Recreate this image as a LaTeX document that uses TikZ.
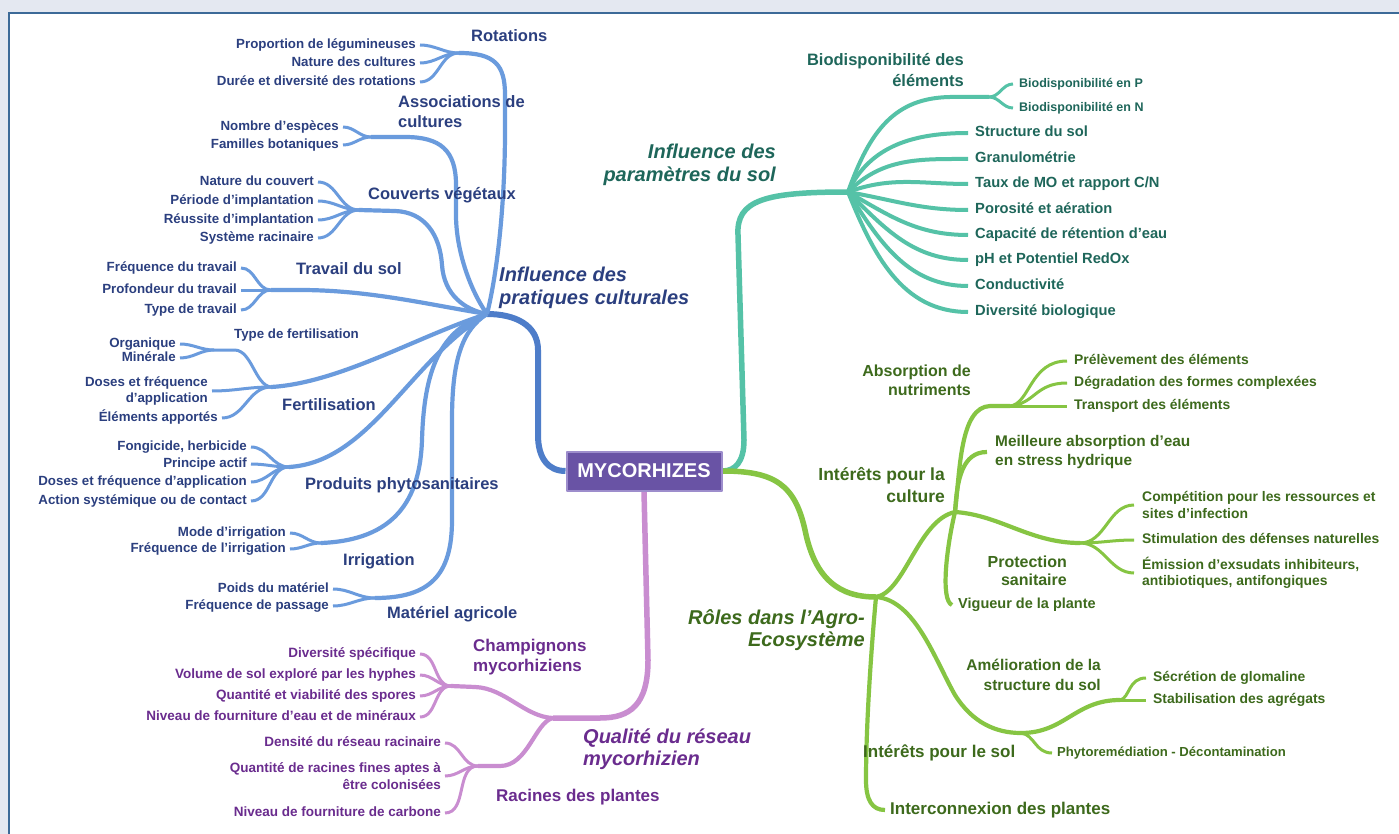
\documentclass[tikz,border=0pt]{standalone}
\usepackage{fontspec}
\setmainfont{Liberation Sans}
\definecolor{bline}{HTML}{6A9BDD}
\definecolor{bmain}{HTML}{4E7DC9}
\definecolor{btxt}{HTML}{2B3F7F}
\definecolor{tline}{HTML}{55C2A7}
\definecolor{ttxt}{HTML}{1E665A}
\definecolor{gline}{HTML}{86C543}
\definecolor{gtxt}{HTML}{3D6A1C}
\definecolor{pline}{HTML}{C98DD0}
\definecolor{ptxt}{HTML}{6A2C8E}
\definecolor{rootfill}{HTML}{6953A5}
\definecolor{rootedge}{HTML}{9D8DCC}
\definecolor{framebg}{HTML}{E4E8F1}
\definecolor{frameln}{HTML}{3C6A98}
\newcommand{\myfs}[2]{\fontsize{#1}{#2}\selectfont}
\pgfdeclarelayer{back}
\pgfdeclarelayer{bg}
\pgfsetlayers{back,bg,main}
\tikzset{
 bleaf/.style={inner sep=0pt,anchor=east,text=btxt,font=\bfseries\myfs{13.3}{16},text height=9.6pt,text depth=2.7pt},
 bleafm/.style={inner sep=0pt,anchor=east,align=right,text=btxt,font=\bfseries\myfs{13.3}{16.5}},
 blab/.style={inner sep=0pt,anchor=west,text=btxt,font=\bfseries\myfs{16.5}{20},text height=11.9pt,text depth=3.3pt},
 blabm/.style={inner sep=0pt,anchor=west,align=left,text=btxt,font=\bfseries\myfs{16.5}{20}},
 bigl/.style={inner sep=0pt,font=\bfseries\itshape\myfs{20}{22.5}},
 tleaf/.style={inner sep=0pt,anchor=west,text=ttxt,font=\bfseries\myfs{14.7}{18},text height=10.6pt,text depth=3pt},
 tsmall/.style={inner sep=0pt,anchor=west,text=ttxt,font=\bfseries\myfs{12.5}{15},text height=9pt,text depth=2.5pt},
 tlabm/.style={inner sep=0pt,anchor=east,align=right,text=ttxt,font=\bfseries\myfs{16.5}{21}},
 gleaf/.style={inner sep=0pt,anchor=west,text=gtxt,font=\bfseries\myfs{13.9}{16.5},text height=10pt,text depth=2.8pt},
 gleafm/.style={inner sep=0pt,anchor=west,align=left,text=gtxt,font=\bfseries\myfs{13.9}{16.3}},
 glab/.style={inner sep=0pt,anchor=west,text=gtxt,font=\bfseries\myfs{17}{20},text height=12.2pt,text depth=3.4pt},
 glabm/.style={inner sep=0pt,anchor=east,align=right,text=gtxt,font=\bfseries\myfs{16.5}{20}},
 pleaf/.style={inner sep=0pt,anchor=east,text=ptxt,font=\bfseries\myfs{13.5}{17},text height=9.7pt,text depth=2.7pt},
 pleafm/.style={inner sep=0pt,anchor=east,align=right,text=ptxt,font=\bfseries\myfs{13.5}{17}},
 plab/.style={inner sep=0pt,anchor=west,text=ptxt,font=\bfseries\myfs{17}{20},text height=12.2pt,text depth=3.4pt},
 plabm/.style={inner sep=0pt,anchor=west,align=left,text=ptxt,font=\bfseries\myfs{17}{20}},
 rootbox/.style={fill=rootfill,draw=rootedge,line width=2pt,text=white,font=\bfseries\myfs{20}{24},minimum width=155pt,minimum height=39pt,inner sep=0pt},
 bmainl/.style={draw=bmain,line width=6pt},
 bbr/.style={draw=bline,line width=4.2pt},
 btw/.style={draw=bline,line width=3pt},
 tmainl/.style={draw=tline,line width=5.5pt},
 tbr/.style={draw=tline,line width=4pt},
 ttw/.style={draw=tline,line width=3pt},
 gmainl/.style={draw=gline,line width=5.5pt},
 gbr/.style={draw=gline,line width=4.2pt},
 gtw/.style={draw=gline,line width=3pt},
 pmainl/.style={draw=pline,line width=5.5pt},
 pbr/.style={draw=pline,line width=4.2pt},
 ptw/.style={draw=pline,line width=3pt}
}
\begin{document}
\begin{tikzpicture}[x=1pt,y=-1pt,line cap=round,line join=round]
\useasboundingbox (0,0) rectangle (1399,834);
\begin{pgfonlayer}{back}
\fill[white] (0,0) rectangle (1399,834);
\fill[framebg] (0,0) rectangle (1399,12);
\fill[framebg] (0,0) rectangle (8,834);
\draw[frameln,line width=2pt] (9,834) -- (9,13) -- (1399,13);
\end{pgfonlayer}

% ---------- root
\node[rootbox] (root) at (644,471) {MYCORHIZES};

% ---------- blue: pratiques culturales
\coordinate (Bh) at (487,314);
\node[bigl,text=btxt,anchor=west,align=left] (Blab) at (499,288) {Influence des\\pratiques culturales};

\coordinate (FR) at (459,53);
\node[blab] (Rot) at (471,37) {Rotations};
\node[bleaf] (r1) at (416,45) {Proportion de légumineuses};
\node[bleaf] (r2) at (416,63) {Nature des cultures};
\node[bleaf] (r3) at (416,82) {Durée et diversité des rotations};

\coordinate (FA) at (371,137);
\node[blabm] (Ass) at (398,112) {Associations de\\cultures};
\node[bleaf] (a1) at (339,127) {Nombre d'espèces};
\node[bleaf] (a2) at (339,145) {Familles botaniques};

\coordinate (FC) at (359,210);
\node[blab] (Cou) at (368,195) {Couverts végétaux};
\node[bleaf] (c1) at (314,182) {Nature du couvert};
\node[bleaf] (c2) at (314,201) {Période d'implantation};
\node[bleaf] (c3) at (314,220) {Réussite d'implantation};
\node[bleaf] (c4) at (314,238) {Système racinaire};

\coordinate (FT) at (271,290);
\node[blab] (Tra) at (296,270) {Travail du sol};
\node[bleaf] (t1) at (237,268) {Fréquence du travail};
\node[bleaf] (t2) at (237,290) {Profondeur du travail};
\node[bleaf] (t3) at (237,310) {Type de travail};

\coordinate (FF) at (271,387);
\coordinate (FTF) at (214,350);
\node[bleaf,anchor=west] (TF) at (234,335) {Type de fertilisation};
\node[bleaf] (f1) at (176,344) {Organique};
\node[bleaf] (f2) at (176,358) {Minérale};
\node[bleafm] (f3) at (208,391) {Doses et fréquence\\d'application};
\node[bleaf] (f4) at (218,418) {Éléments apportés};
\node[blab] (Fer) at (282,406) {Fertilisation};

\coordinate (FP) at (289,467);
\node[blab] (Pro) at (305,485) {Produits phytosanitaires};
\node[bleaf] (p1) at (247,447) {Fongicide, herbicide};
\node[bleaf] (p2) at (247,464) {Principe actif};
\node[bleaf] (p3) at (247,482) {Doses et fréquence d'application};
\node[bleaf] (p4) at (247,501) {Action systémique ou de contact};

\coordinate (FI) at (321,543);
\node[blab] (Irr) at (343,561) {Irrigation};
\node[bleaf] (i1) at (286,533) {Mode d'irrigation};
\node[bleaf] (i2) at (286,549) {Fréquence de l'irrigation};

\coordinate (FM) at (375,598);
\node[blab] (Mat) at (387,614) {Matériel agricole};
\node[bleaf] (m1) at (329,589) {Poids du matériel};
\node[bleaf] (m2) at (329,606) {Fréquence de passage};

% ---------- teal: paramètres du sol
\coordinate (Th) at (848,192);
\node[bigl,text=ttxt,anchor=east,align=right] (Tlab) at (776,165) {Influence des\\paramètres du sol};
\coordinate (FBd) at (989,97);
\node[tlabm] (Bd) at (964,70) {Biodisponibilité des\\éléments};
\node[tsmall] (bd1) at (1019,84) {Biodisponibilité en P};
\node[tsmall] (bd2) at (1019,108) {Biodisponibilité en N};
\node[tleaf] (s1) at (975,133) {Structure du sol};
\node[tleaf] (s2) at (975,159) {Granulométrie};
\node[tleaf] (s3) at (975,184) {Taux de MO et rapport C/N};
\node[tleaf] (s4) at (975,210) {Porosité et aération};
\node[tleaf] (s5) at (975,235) {Capacité de rétention d'eau};
\node[tleaf] (s6) at (975,260) {pH et Potentiel RedOx};
\node[tleaf] (s7) at (975,286) {Conductivité};
\node[tleaf] (s8) at (975,312) {Diversité biologique};

% ---------- green: rôles
\coordinate (Gj) at (876,597);
\node[bigl,text=gtxt,anchor=east,align=right] (Glab) at (865,630) {Rôles dans l'Agro-\\Ecosystème};
\coordinate (Gc) at (955,512);
\node[glabm,font=\bfseries\myfs{17.5}{22}] (Cul) at (945,485) {Intérêts pour la\\culture};
\coordinate (Ga) at (1010,406);
\node[glabm,font=\bfseries\myfs{16}{19}] (Abs) at (971,380) {Absorption de\\nutriments};
\node[gleaf] (n1) at (1074,361) {Prélèvement des éléments};
\node[gleaf] (n2) at (1074,383) {Dégradation des formes complexées};
\node[gleaf] (n3) at (1074,406) {Transport des éléments};
\node[gleafm,font=\bfseries\myfs{15.4}{19}] (me) at (995,452) {Meilleure absorption d'eau\\en stress hydrique};
\coordinate (Gp) at (1080,543);
\node[glabm,font=\bfseries\myfs{16}{18}] (Prot) at (1067,571) {Protection\\sanitaire};
\node[gleafm] (q1) at (1142,505) {Compétition pour les ressources et\\sites d'infection};
\node[gleaf] (q2) at (1142,540) {Stimulation des défenses naturelles};
\node[gleafm] (q3) at (1142,573) {Émission d'exsudats inhibiteurs,\\antibiotiques, antifongiques};
\node[gleaf,font=\bfseries\myfs{14.5}{17}] (vi) at (958,605) {Vigueur de la plante};
\coordinate (Gs) at (1021,733);
\node[glab] (Sol) at (863,753) {Intérêts pour le sol};
\coordinate (Gam) at (1120,700);
\node[glabm,font=\bfseries\myfs{15.5}{20}] (Ame) at (1101,675) {Amélioration de la\\structure du sol};
\node[gleaf] (u1) at (1153,678) {Sécrétion de glomaline};
\node[gleaf] (u2) at (1153,700) {Stabilisation des agrégats};
\node[gleaf,font=\bfseries\myfs{13.1}{16}] (u3) at (1057,753) {Phytoremédiation - Décontamination};
\node[glab] (ic) at (890,810) {Interconnexion des plantes};

% ---------- purple: réseau
\coordinate (Ph) at (553,718);
\node[bigl,text=ptxt,anchor=west,align=left] (Plab) at (583,749) {Qualité du réseau\\mycorhizien};
\coordinate (Pc) at (451,686);
\node[plabm] (Cha) at (473,657) {Champignons\\mycorhiziens};
\node[pleaf] (k1) at (416,654) {Diversité spécifique};
\node[pleaf] (k2) at (416,675) {Volume de sol exploré par les hyphes};
\node[pleaf] (k3) at (416,696) {Quantité et viabilité des spores};
\node[pleaf] (k4) at (416,717) {Niveau de fourniture d'eau et de minéraux};
\coordinate (Pr) at (478,766);
\node[plab] (Rac) at (496,797) {Racines des plantes};
\node[pleaf] (w1) at (441,743) {Densité du réseau racinaire};
\node[pleafm] (w2) at (441,776) {Quantité de racines fines aptes à\\être colonisées};
\node[pleaf] (w3) at (441,813) {Niveau de fourniture de carbone};

% ================= connectors
\begin{pgfonlayer}{bg}
% blue
\draw[bmainl] (root.west) .. controls (548,471) and (538,458) .. (538,435) -- (538,350) .. controls (538,325) and (515,314) .. (Bh);
\draw[bbr] (Bh) .. controls (498,270) and (505,200) .. (505,130) -- (505,95) .. controls (505,65) and (495,53) .. (FR);
\draw[bbr] (Bh) .. controls (470,290) and (456,250) .. (456,215) -- (456,185) .. controls (456,150) and (440,137) .. (405,137) -- (FA);
\draw[bbr] (Bh) .. controls (465,310) and (444,295) .. (442,265) .. controls (440,235) and (425,212) .. (395,211) -- (FC);
\draw[bbr] (FT) -- (300,290) .. controls (370,290) and (430,305) .. (Bh);
\draw[bbr] (FF) .. controls (340,383) and (420,335) .. (Bh);
\draw[btw] (FF) .. controls (255,385) and (252,351) .. (235,350) -- (FTF);
\draw[bbr] (FP) .. controls (370,462) and (410,360) .. (Bh);
\draw[bbr] (FI) .. controls (395,540) and (420,500) .. (422,440) .. controls (424,370) and (440,330) .. (Bh);
\draw[bbr] (FM) .. controls (430,598) and (452,575) .. (452,520) -- (452,420) .. controls (452,360) and (462,330) .. (Bh);
\foreach \a/\b in {FR/r1,FR/r2,FR/r3,FA/a1,FA/a2,FC/c1,FC/c2,FC/c3,FC/c4,FT/t1,FT/t2,FT/t3,FTF/f1,FTF/f2,FF/f3,FF/f4,FP/p1,FP/p2,FP/p3,FP/p4,FI/i1,FI/i2,FM/m1,FM/m2}
  \draw[btw] (\a) to[out=180,in=0] ([xshift=4pt]\b.east);
% teal
\draw[tmainl] (root.east) .. controls (735,471) and (744,462) .. (744,440) -- (738,235) .. controls (736,200) and (765,192) .. (Th);
\draw[tbr] (Th) .. controls (870,130) and (895,98) .. (950,97) -- (FBd);
\draw[ttw] (FBd) to[out=0,in=180] ([xshift=-6pt]bd1.west);
\draw[ttw] (FBd) to[out=0,in=180] ([xshift=-6pt]bd2.west);
\foreach \b/\ang in {s1/65,s2/45,s3/20,s4/-10,s5/-30,s6/-45,s7/-58,s8/-68}
  \draw[tbr] (Th) to[out=\ang,in=180] ([xshift=-7pt]\b.west);
% green
\draw[gmainl] (root.east) .. controls (775,471) and (795,485) .. (805,530) .. controls (815,580) and (840,597) .. (Gj);
\draw[gbr] (Gj) .. controls (905,592) and (918,520) .. (Gc);
\draw[gbr] (Gc) .. controls (960,470) and (960,407) .. (990,406) -- (Ga);
\draw[gtw] (Ga) -- ([xshift=-7pt]n3.west);
\draw[gtw] (Ga) .. controls (1035,404) and (1035,383) .. ([xshift=-7pt]n2.west);
\draw[gtw] (Ga) .. controls (1030,404) and (1030,361) .. ([xshift=-7pt]n1.west);
\draw[gbr] (Gc) .. controls (957,480) and (962,452) .. ([xshift=-8pt]me.west);
\draw[gbr] (Gc) .. controls (1000,515) and (1030,543) .. (Gp);
\foreach \b in {q1,q2,q3}
  \draw[gtw] (Gp) to[out=0,in=180] ([xshift=-8pt]\b.west);
\draw[gbr] (Gc) .. controls (947,545) and (940,600) .. ([xshift=-6pt]vi.west);
\draw[gbr] (Gj) .. controls (915,600) and (935,660) .. (955,695) .. controls (972,722) and (995,733) .. (Gs);
\draw[gbr] (Gs) .. controls (1065,733) and (1075,700) .. (Gam);
\draw[gtw] (Gam) -- ([xshift=-7pt]u2.west);
\draw[gtw] (Gam) .. controls (1130,698) and (1128,678) .. ([xshift=-7pt]u1.west);
\draw[gtw] (Gs) .. controls (1035,735) and (1035,753) .. ([xshift=-5pt]u3.west);
\draw[gbr] (Gj) .. controls (872,640) and (866,720) .. (866,780) .. controls (866,800) and (872,810) .. ([xshift=-5pt]ic.west);
% purple
\draw[pmainl] (root.south) -- (648,660) .. controls (648,705) and (630,718) .. (600,718) -- (Ph);
\draw[pbr] (Ph) .. controls (525,717) and (505,688) .. (475,687) -- (Pc);
\draw[pbr] (Ph) .. controls (535,722) and (528,766) .. (500,766) -- (Pr);
\foreach \b in {k1,k2,k3,k4}
  \draw[ptw] (Pc) to[out=180,in=0] ([xshift=4pt]\b.east);
\foreach \b in {w1,w2,w3}
  \draw[ptw] (Pr) to[out=180,in=0] ([xshift=4pt]\b.east);
\end{pgfonlayer}
\end{tikzpicture}
\end{document}
